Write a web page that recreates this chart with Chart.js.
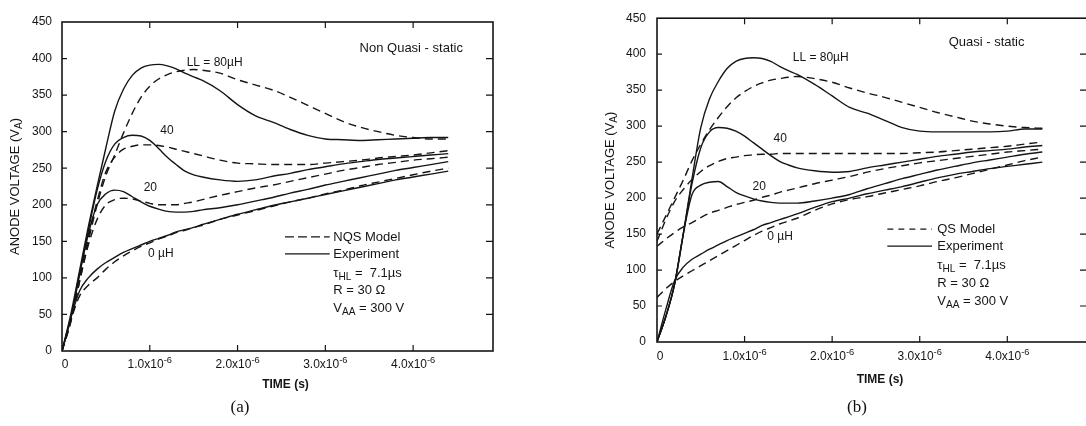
<!DOCTYPE html>
<html>
<head>
<meta charset="utf-8">
<script src="https://cdn.jsdelivr.net/npm/chart.js@4.4.1/dist/chart.umd.min.js"></script>
<style>
  body { margin: 0; background: #fff; width: 1086px; height: 426px; overflow: hidden; position: relative; }
  .panel { position: absolute; top: 0; height: 426px; }
  #panelA { left: 0; width: 510px; }
  #panelB { left: 596px; width: 500px; }
  .cap { position: absolute; top: 397px; font-family: "Liberation Serif", serif; font-size: 17px; color: #111; transform: translateX(-50%); }
</style>
</head>
<body>
<div class="panel" id="panelA"><canvas id="chartA"></canvas></div>
<div class="panel" id="panelB"><canvas id="chartB"></canvas></div>
<div class="cap" style="left:240px">(a)</div>
<div class="cap" style="left:857px">(b)</div>
<script>
'use strict';
// TIME (microseconds, axis reads x10-6 s)
var timeUs = [0, 0.1, 0.2, 0.3, 0.4, 0.5, 0.6, 0.7, 0.8, 0.9, 1.0, 1.1, 1.2, 1.3, 1.4, 1.5, 1.6,
              1.8, 2.0, 2.2, 2.4, 2.6, 2.8, 3.0, 3.2, 3.4, 3.6, 3.8, 4.0, 4.2, 4.4];
var timeTicks = [0, 1, 2, 3, 4];
var timeTickLabels = ['0', '1.0x10', '2.0x10', '3.0x10', '4.0x10'];
var timeTickExp = ['', '-6', '-6', '-6', '-6'];

// (a) NON QUASI-STATIC - experiment
var expA80 = [0, 50, 110, 170, 225, 278, 328, 358, 377, 387, 391, 392, 390, 386, 380, 375, 370,
              356, 337, 322, 313, 303, 295, 290, 289, 288, 289, 290, 291, 292, 292];
var expA40 = [0, 45, 105, 165, 220, 260, 283, 292, 295, 294, 288, 277, 265, 255, 246, 241, 238,
              234, 232, 234, 239, 243, 248, 252, 256, 259, 262, 264, 266, 268, 270];
var expA20 = [0, 45, 105, 160, 200, 215, 220, 218, 211, 204, 198, 194, 191, 190, 190, 191, 193,
              196, 200, 205, 210, 216, 221, 227, 232, 237, 242, 247, 251, 255, 259];
var expA0 = [0, 45, 82, 100, 112, 121, 128, 135, 140, 145, 150, 154, 158, 163, 166, 169, 173,
             180, 187, 193, 199, 204, 209, 214, 219, 224, 229, 234, 238, 242, 246];
// (a) NQS model
var nqsA80 = [0, 40, 95, 150, 200, 240, 268, 298, 325, 347, 362, 372, 378, 382, 384, 385, 384,
              380, 371, 364, 357, 347, 336, 325, 314, 306, 300, 295, 292, 290, 290];
var nqsA40 = [0, 45, 100, 155, 205, 245, 265, 276, 280, 282, 282, 281, 279, 276, 273, 270, 267,
              261, 257, 256, 255, 255, 255, 257, 259, 261, 264, 266, 268, 271, 274];
var nqsA20 = [0, 40, 95, 145, 180, 200, 207, 209, 208, 205, 202, 200, 200, 200, 202, 204, 207,
              213, 218, 223, 227, 232, 237, 242, 247, 251, 255, 258, 261, 263, 265];
var nqsA0 = [0, 42, 75, 90, 100, 112, 122, 130, 137, 143, 148, 153, 157, 162, 165, 169, 172,
             180, 186, 192, 198, 204, 209, 215, 220, 226, 231, 236, 241, 246, 250];

// (b) QUASI-STATIC - experiment
var expB80 = [0, 35, 80, 150, 227, 298, 338, 362, 380, 390, 394, 395, 394, 390, 383, 377, 372,
              358, 342, 326, 318, 308, 298, 293, 292, 292, 292, 292, 293, 296, 296];
var expB40 = [0, 35, 80, 150, 220, 270, 292, 298, 297, 293, 286, 277, 268, 259, 251, 246, 242,
              238, 236, 237, 242, 246, 250, 254, 258, 261, 264, 266, 268, 271, 273];
var expB20 = [0, 35, 80, 150, 205, 218, 222, 223, 216, 208, 203, 199, 196, 194, 193, 193, 193,
              196, 200, 205, 213, 220, 227, 233, 239, 244, 249, 253, 257, 261, 264];
var expB0 = [0, 45, 85, 104, 115, 122, 129, 135, 141, 146, 151, 156, 162, 166, 170, 174, 178,
             187, 195, 200, 206, 211, 216, 222, 228, 233, 237, 241, 244, 247, 250];
// (b) QS model
var qsB80 = [150, 175, 200, 225, 252, 275, 295, 312, 327, 339, 348, 355, 360, 364, 366, 368, 369,
             366, 361, 353, 346, 340, 333, 326, 319, 313, 307, 303, 300, 298, 297];
var qsB40 = [140, 170, 195, 212, 226, 237, 245, 251, 255, 257, 259, 260, 261, 261, 262, 262, 262,
             262, 262, 262, 262, 262, 262, 263, 264, 266, 268, 270, 272, 275, 278];
var qsB20 = [133, 143, 152, 160, 166, 173, 179, 183, 187, 191, 194, 197, 201, 204, 208, 211, 214,
             220, 225, 230, 236, 241, 245, 249, 252, 255, 258, 261, 264, 266, 268];
var qsB0 = [62, 74, 84, 92, 99, 106, 113, 120, 127, 134, 141, 148, 154, 159, 164, 168, 172,
            183, 192, 198, 202, 207, 212, 217, 223, 228, 234, 240, 246, 252, 257];

var INK = '#151515';
var FONT = '"Liberation Sans", Arial, sans-serif';

function toPoints(vals) {
  return vals.map(function(v, i) { return { x: timeUs[i], y: v }; });
}

// text with sub / superscript pieces: [text, 0 normal | 1 sub | 2 sup]
function drawRuns(ctx, x, y, runs, size, align) {
  var fonts = runs.map(function(r) { return (r[1] ? size * 0.78 : size) + 'px ' + FONT; });
  var widths = runs.map(function(r, i) { ctx.font = fonts[i]; return ctx.measureText(r[0]).width; });
  var total = widths.reduce(function(s, w) { return s + w; }, 0);
  var cx = align === 'center' ? x - total / 2 : x;
  ctx.textAlign = 'left';
  ctx.textBaseline = 'middle';
  runs.forEach(function(r, i) {
    var dy = r[1] === 1 ? size * 0.35 : (r[1] === 2 ? -size * 0.4 : 0);
    ctx.font = fonts[i];
    ctx.fillText(r[0], cx, y + dy);
    cx += widths[i];
  });
}

function decoPlugin(d) {
  return {
    id: 'deco' + d.name,
    afterDraw: function(chart) {
      var ctx = chart.ctx, a = chart.chartArea, xs = chart.scales.x, ys = chart.scales.y;
      ctx.save();
      // FRAME
      ctx.strokeStyle = INK;
      ctx.lineWidth = 1.6;
      ctx.strokeRect(a.left, a.top, a.right - a.left, a.bottom - a.top);
      // INWARD TICKS
      ctx.lineWidth = 1.2;
      ctx.beginPath();
      timeTicks.forEach(function(t) {
        if (t === 0) return;
        var x = xs.getPixelForValue(t);
        ctx.moveTo(x, a.bottom); ctx.lineTo(x, a.bottom - 6);
        ctx.moveTo(x, a.top); ctx.lineTo(x, a.top + 6);
      });
      ys.ticks.forEach(function(tk) {
        if (tk.value <= 0 || tk.value >= 450) return;
        var y = ys.getPixelForValue(tk.value);
        ctx.moveTo(a.left, y); ctx.lineTo(a.left + 5, y);
        ctx.moveTo(a.right, y); ctx.lineTo(a.right - 7, y);
      });
      ctx.stroke();

      ctx.fillStyle = INK;
      // X TICK LABELS
      timeTicks.forEach(function(t, i) {
        var x = xs.getPixelForValue(t) + (i === 0 ? 3 : 0);
        drawRuns(ctx, x, a.bottom + d.tickDy, [[timeTickLabels[i], 0], [timeTickExp[i], 2]], 12, 'center');
      });
      // AXIS TITLES
      ctx.font = 'bold 12px ' + FONT;
      ctx.textAlign = 'center';
      ctx.textBaseline = 'middle';
      ctx.fillText('TIME (s)', (a.left + a.right) / 2 + 8, a.bottom + d.titleDy);
      ctx.save();
      ctx.translate(a.left - 47, (a.top + a.bottom) / 2);
      ctx.rotate(-Math.PI / 2);
      drawRuns(ctx, 0, 0, [['ANODE VOLTAGE (V', 0], ['A', 1], [')', 0]], 13, 'center');
      ctx.restore();

      // CURVE LABELS
      d.notes.forEach(function(n) {
        drawRuns(ctx, xs.getPixelForValue(n.t), ys.getPixelForValue(n.v), n.runs, n.size, 'left');
      });

      // LEGEND
      var lx0 = xs.getPixelForValue(d.legend.t0), lx1 = xs.getPixelForValue(d.legend.t1);
      var tx = xs.getPixelForValue(d.legend.tText), ly = ys.getPixelForValue(d.legend.v);
      ctx.lineWidth = 1.3;
      ctx.strokeStyle = INK;
      ctx.setLineDash(d.legend.dash);
      ctx.beginPath(); ctx.moveTo(lx0, ly); ctx.lineTo(lx1, ly); ctx.stroke();
      ctx.setLineDash([]);
      ctx.beginPath(); ctx.moveTo(lx0, ly + d.legend.rows[1]); ctx.lineTo(lx1, ly + d.legend.rows[1]); ctx.stroke();
      d.legend.lines.forEach(function(runs, i) {
        drawRuns(ctx, tx, ly + d.legend.rows[i], runs, 13, 'left');
      });
      ctx.restore();
    }
  };
}

function makeChart(id, model, exp, d) {
  var ds = [];
  exp.forEach(function(v) {
    ds.push({ data: toPoints(v), borderColor: INK, borderWidth: 1.4, pointRadius: 0,
              cubicInterpolationMode: 'monotone' });
  });
  model.forEach(function(v) {
    ds.push({ data: toPoints(v), borderColor: INK, borderWidth: 1.4, pointRadius: 0,
              borderDash: [8, 5], cubicInterpolationMode: 'monotone' });
  });
  return new Chart(document.getElementById(id), {
    type: 'line',
    data: { datasets: ds },
    options: {
      animation: false,
      responsive: true,
      maintainAspectRatio: false,
      devicePixelRatio: 1,
      layout: { padding: { top: d.top, right: d.right, left: 0, bottom: 0 } },
      plugins: { legend: { display: false }, tooltip: { enabled: false } },
      scales: {
        x: {
          type: 'linear', min: 0, max: 4.91,
          grid: { display: false, drawTicks: false },
          border: { display: false },
          ticks: { display: false, stepSize: 1, includeBounds: false },
          afterFit: function(s) { s.height = d.bottom; }
        },
        y: {
          min: 0, max: 450,
          grid: { display: false, drawTicks: false },
          border: { display: false },
          ticks: { stepSize: 50, padding: d.tickPad, color: INK, font: { family: FONT, size: 12 } },
          afterFit: function(s) { s.width = d.left; }
        }
      }
    },
    plugins: [decoPlugin(d)]
  });
}

var legendLines = function(modelName) {
  return [
    [[modelName, 0]],
    [['Experiment', 0]],
    [['\u03C4', 0], ['HL', 1], [' =  7.1\u00B5s', 0]],
    [['R = 30 \u03A9', 0]],
    [['V', 0], ['AA', 1], [' = 300 V', 0]]
  ];
};

makeChart('chartA', [nqsA80, nqsA40, nqsA20, nqsA0], [expA80, expA40, expA20, expA0], {
  name: 'A', top: 22, right: 17, bottom: 75, left: 62, tickPad: 10, tickDy: 14, titleDy: 34,
  notes: [
    { t: 1.42, v: 395, size: 12, runs: [['LL = 80\u00B5H', 0]] },
    { t: 1.12, v: 301, size: 12, runs: [['40', 0]] },
    { t: 0.93, v: 223, size: 12, runs: [['20', 0]] },
    { t: 0.98, v: 133, size: 12, runs: [['0 \u00B5H', 0]] },
    { t: 3.39, v: 414, size: 13, runs: [['Non Quasi - static', 0]] }
  ],
  legend: { t0: 2.54, t1: 3.05, tText: 3.09, v: 156, dash: [9, 4], rows: [0, 17, 36, 53, 71],
            lines: legendLines('NQS Model') }
});

makeChart('chartB', [qsB80, qsB40, qsB20, qsB0], [expB80, expB40, expB20, expB0], {
  name: 'B', top: 15, right: 9, bottom: 84, left: 61, tickPad: 11, tickDy: 15, titleDy: 38,
  notes: [
    { t: 1.55, v: 395, size: 12, runs: [['LL = 80\u00B5H', 0]] },
    { t: 1.33, v: 282, size: 12, runs: [['40', 0]] },
    { t: 1.09, v: 216, size: 12, runs: [['20', 0]] },
    { t: 1.26, v: 146, size: 12, runs: [['0 \u00B5H', 0]] },
    { t: 3.33, v: 416, size: 13, runs: [['Quasi - static', 0]] }
  ],
  legend: { t0: 2.63, t1: 3.14, tText: 3.20, v: 157, dash: [6, 5], rows: [0, 17, 36, 54, 72],
            lines: legendLines('QS Model') }
});
</script>
</body>
</html>
